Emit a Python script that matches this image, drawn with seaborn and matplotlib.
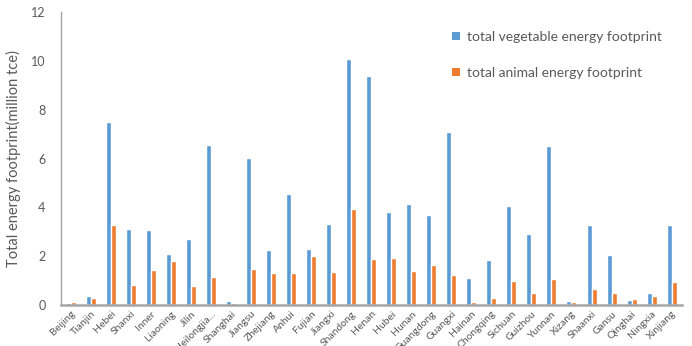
import matplotlib
matplotlib.use("Agg")
import matplotlib.pyplot as plt
import seaborn as sns
import pandas as pd
from matplotlib.patches import Patch

provinces = ["Beijing", "Tianjin", "Hebei", "Shanxi", "Inner", "Liaoning", "Jilin",
             "Heilongjia...", "Shanghai", "Jiangsu", "Zhejiang", "Anhui", "Fujian",
             "Jiangxi", "Shandong", "Henan", "Hubei", "Hunan", "Guangdong", "Guangxi",
             "Hainan", "Chongqing", "Sichuan", "Guizhou", "Yunnan", "Xizang", "Shaanxi",
             "Gansu", "Qinghai", "Ningxia", "Xinjiang"]
vegetable = [0.08, 0.37, 7.5, 3.1, 3.06, 2.08, 2.72, 6.57, 0.18, 6.02, 2.24, 4.55, 2.28,
             3.32, 10.1, 9.4, 3.8, 4.13, 3.69, 7.1, 1.1, 1.83, 4.04, 2.9, 6.5, 0.15, 3.28,
             2.05, 0.19, 0.49, 3.28]
animal = [0.11, 0.27, 3.3, 0.82, 1.43, 1.8, 0.79, 1.13, 0.07, 1.46, 1.33, 1.33, 2.0,
          1.36, 3.92, 1.87, 1.94, 1.38, 1.64, 1.22, 0.12, 0.3, 0.97, 0.48, 1.07, 0.12, 0.64,
          0.5, 0.24, 0.36, 0.93]
series_names = ["total vegetable energy footprint", "total animal energy footprint"]
colors = ["#5B9BD5", "#ED7D31"]

df = pd.DataFrame({
    "province": provinces * 2,
    "value": vegetable + animal,
    "series": [series_names[0]] * len(provinces) + [series_names[1]] * len(provinces),
})

sns.set_style("white")
plt.rcParams["font.family"] = ["Lato", "DejaVu Sans"]
grey = "#595959"

fig = plt.figure(figsize=(6.92, 3.46), dpi=100)
ax = fig.add_axes([0.088, 0.1185, 0.897, 0.846])
sns.barplot(data=df, x="province", y="value", hue="series", palette=colors,
            width=0.5, ax=ax, saturation=1, legend=False, errorbar=None)

ax.set_ylim(0, 12)
ax.set_yticks([0, 2, 4, 6, 8, 10, 12])
ax.set_xlim(-0.5, len(provinces) - 0.5)
ax.set_xlabel("")
ax.set_ylabel("Total energy footprint(million tce)", fontsize=10.5, color=grey, labelpad=7)
ax.tick_params(axis="y", labelsize=9, colors=grey, length=3, width=0.8, pad=8)
ax.tick_params(axis="x", labelsize=7.5, colors=grey, length=0, pad=3)
for lbl in ax.get_xticklabels():
    lbl.set_rotation(45)
    lbl.set_ha("right")
    lbl.set_rotation_mode("anchor")

for s in ["top", "right"]:
    ax.spines[s].set_visible(False)
ax.spines["left"].set_color("#A6A6A6")
ax.spines["left"].set_linewidth(1.0)
ax.spines["bottom"].set_color("#A6A6A6")
ax.spines["bottom"].set_linewidth(1.8)

handles = [Patch(facecolor=c, edgecolor="none") for c in colors]
leg = ax.legend(handles, series_names, loc="upper left", bbox_to_anchor=(0.61, 0.98),
                frameon=False, fontsize=10, labelspacing=1.75, handlelength=0.55,
                handleheight=0.55, handletextpad=0.5)
for t in leg.get_texts():
    t.set_color(grey)

fig.savefig("out.png", dpi=100)
